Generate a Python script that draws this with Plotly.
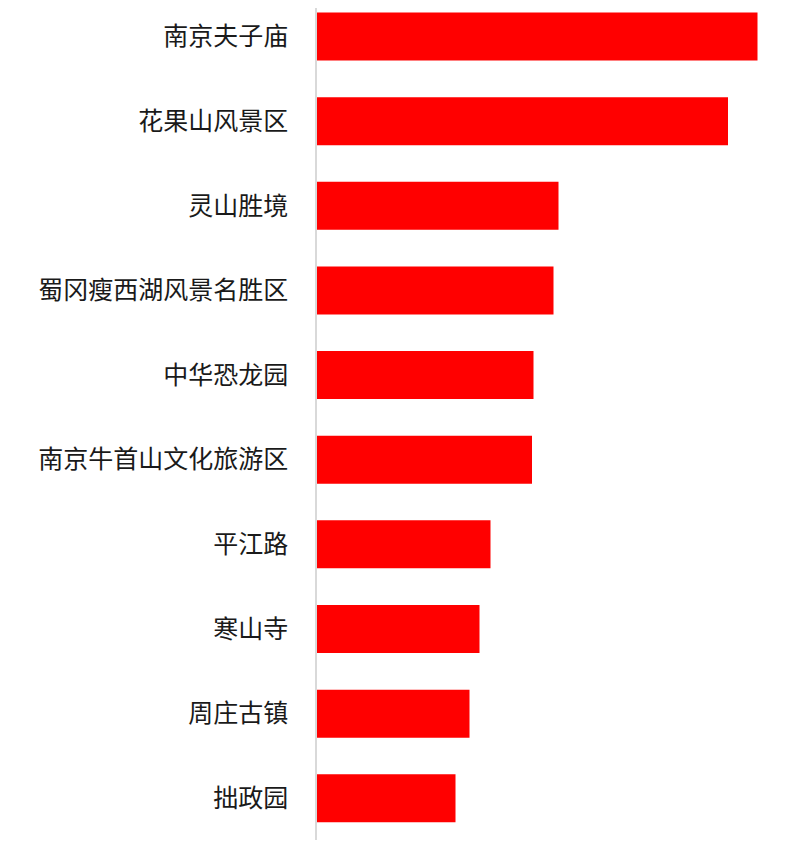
import plotly.graph_objects as go

# scenic spots, top to bottom
spots = ["南京夫子庙", "花果山风景区", "灵山胜境", "蜀冈瘦西湖风景名胜区", "中华恐龙园",
         "南京牛首山文化旅游区", "平江路", "寒山寺", "周庄古镇", "拙政园"]
scores = [440.5, 411, 241.5, 236.5, 216.5, 215, 173.5, 162.5, 152.5, 138.5]

fig = go.Figure(go.Bar(
    x=scores,
    y=spots,
    orientation="h",
    marker=dict(color="#ff0000", line=dict(width=0)),
))

fig.update_layout(
    width=800, height=857,
    margin=dict(l=309, r=20, t=0, b=25),
    plot_bgcolor="white",
    paper_bgcolor="white",
    bargap=0.433,
    showlegend=False,
    font=dict(family="Noto Sans CJK SC", size=25, color="#1a1a1a"),
)
fig.update_xaxes(range=[0, 471], showticklabels=False, showgrid=False,
                 zeroline=False, showline=False)
fig.update_yaxes(categoryorder="array", categoryarray=spots,
                 range=[9.493, -0.337], showgrid=False, zeroline=False,
                 showline=True, linecolor="#d9d9d9", linewidth=1.5,
                 ticks="", ticklabelstandoff=22)

fig.write_html("out.html")
